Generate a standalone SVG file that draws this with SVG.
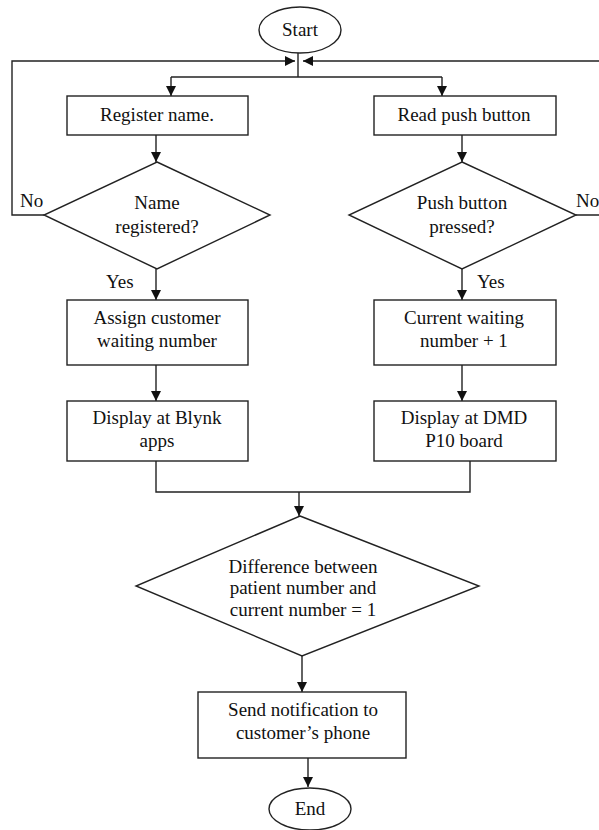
<svg xmlns="http://www.w3.org/2000/svg" width="599" height="830" viewBox="0 0 599 830">
<defs>
<marker id="ah" markerUnits="userSpaceOnUse" markerWidth="10" markerHeight="10" viewBox="0 0 10 10" refX="10" refY="5" orient="auto">
<path d="M0,0 L10,5 L0,10 Z" fill="#111"/>
</marker>
</defs>
<style>
.n{fill:#fff;stroke:#222;stroke-width:1.4}
.c{fill:none;stroke:#222;stroke-width:1.4}
.a{fill:none;stroke:#222;stroke-width:1.4;marker-end:url(#ah)}
text{font-size:19px;fill:#111;text-anchor:middle}
.l{text-anchor:start}
</style>
<rect width="599" height="830" fill="#fff"/>
<g font-family="'Liberation Serif', 'DejaVu Serif', serif">
<g id="connectors">
<line class="c" x1="298" y1="53" x2="298" y2="77"/>
<line class="c" x1="171" y1="77" x2="442" y2="77"/>
<line class="a" x1="171" y1="77" x2="171" y2="96"/>
<line class="a" x1="442" y1="77" x2="442" y2="96"/>
<line class="a" x1="156" y1="135" x2="156" y2="162"/>
<line class="a" x1="462" y1="135" x2="462" y2="162"/>
<line class="a" x1="156" y1="269" x2="156" y2="300"/>
<line class="a" x1="462" y1="269" x2="462" y2="300"/>
<polyline class="a" points="44,215 12,215 12,61 295,61"/>
<polyline class="a" points="576,215 610,215 610,61 303,61"/>
<line class="a" x1="156" y1="365" x2="156" y2="401"/>
<line class="a" x1="462" y1="365" x2="462" y2="401"/>
<polyline class="c" points="156,461 156,492 470,492 470,461"/>
<line class="a" x1="299" y1="492" x2="299" y2="516"/>
<line class="a" x1="302" y1="656" x2="302" y2="692"/>
<line class="a" x1="308" y1="758" x2="308" y2="787"/>
<text class="l" x="20" y="207">No</text>
<text class="l" x="576" y="207">No</text>
<text class="l" x="106" y="288">Yes</text>
<text class="l" x="477" y="288">Yes</text>
</g>
<g id="start">
<ellipse class="n" cx="300" cy="30" rx="41" ry="23"/>
<text x="300" y="36">Start</text>
</g>
<g id="register">
<rect class="n" x="67" y="96" width="181" height="39"/>
<text x="157" y="121">Register name.</text>
</g>
<g id="readpush">
<rect class="n" x="374" y="96" width="182" height="39"/>
<text x="464" y="121">Read push button</text>
</g>
<g id="nameregistered">
<polygon class="n" points="157,162 270,215 157,269 44,215"/>
<text x="157" y="209">Name</text>
<text x="157" y="233">registered?</text>
</g>
<g id="pushpressed">
<polygon class="n" points="462,162 576,215 462,269 349,215"/>
<text x="462" y="209">Push button</text>
<text x="462" y="233">pressed?</text>
</g>
<g id="assign">
<rect class="n" x="67" y="300" width="181" height="65"/>
<text x="157" y="324">Assign customer</text>
<text x="157" y="347">waiting number</text>
</g>
<g id="current">
<rect class="n" x="374" y="300" width="182" height="65"/>
<text x="464" y="324">Current waiting</text>
<text x="464" y="347">number + 1</text>
</g>
<g id="blynk">
<rect class="n" x="67" y="401" width="181" height="60"/>
<text x="157" y="424">Display at Blynk</text>
<text x="157" y="447">apps</text>
</g>
<g id="dmd">
<rect class="n" x="374" y="401" width="182" height="60"/>
<text x="464" y="424">Display at DMD</text>
<text x="464" y="447">P10 board</text>
</g>
<g id="difference">
<polygon class="n" points="300,516 479,586 302,656 136,586"/>
<text x="303" y="573">Difference between</text>
<text x="303" y="594">patient number and</text>
<text x="303" y="616">current number = 1</text>
</g>
<g id="notify">
<rect class="n" x="198" y="692" width="208" height="66"/>
<text x="303" y="716">Send notification to</text>
<text x="303" y="739">customer’s phone</text>
</g>
<g id="end">
<ellipse class="n" cx="310" cy="809" rx="41" ry="21"/>
<text x="310" y="815">End</text>
</g>
</g>
</svg>
